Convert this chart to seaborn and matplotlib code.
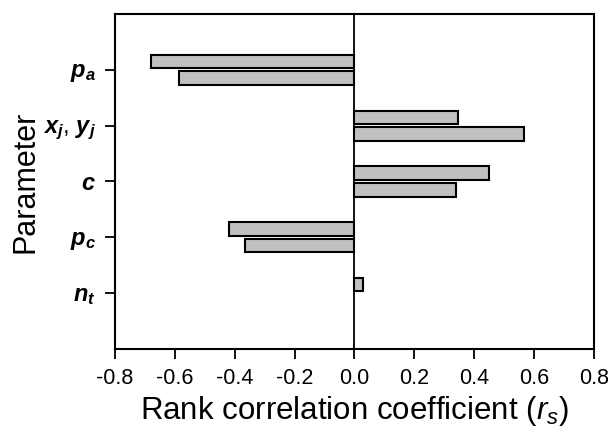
import matplotlib
matplotlib.use("Agg")
import matplotlib.pyplot as plt
import seaborn as sns
import pandas as pd

parameters = ["p_a", "xy_j", "c", "p_c", "n_t"]
tick_labels = [r"$\mathbfit{p_a}$", r"$\mathbfit{x_j}$, $\mathbfit{y_j}$", r"$\mathbfit{c}$",
               r"$\mathbfit{p_c}$", r"$\mathbfit{n_t}$"]
series_upper = [-0.68, 0.345, 0.45, -0.42, 0.03]
series_lower = [-0.585, 0.565, 0.34, -0.365, None]
x_ticks = [-0.8, -0.6, -0.4, -0.2, 0.0, 0.2, 0.4, 0.6, 0.8]

sns.set_style("ticks")
plt.rcParams["font.family"] = ["Liberation Sans", "DejaVu Sans"]
plt.rcParams["mathtext.fontset"] = "custom"
plt.rcParams["mathtext.rm"] = "Liberation Sans"
plt.rcParams["mathtext.it"] = "Liberation Sans:italic"
plt.rcParams["mathtext.bf"] = "Liberation Sans:bold"
plt.rcParams["mathtext.bfit"] = "Liberation Sans:italic:bold"
plt.rcParams["text.color"] = "black"
plt.rcParams["axes.labelcolor"] = "black"
plt.rcParams["xtick.color"] = "black"
plt.rcParams["ytick.color"] = "black"

rows = []
for p, u, l in zip(parameters, series_upper, series_lower):
    rows.append({"param": p, "series": "A", "value": u})
    if l is not None:
        rows.append({"param": p, "series": "B", "value": l})
df = pd.DataFrame(rows)

fig = plt.figure(figsize=(6.11, 4.37), dpi=100)
ax = fig.add_axes([0.188, 0.2014, 0.784, 0.7666])

sns.barplot(data=df, y="param", x="value", hue="series", order=parameters,
            hue_order=["A", "B"], orient="h", width=0.6, gap=0.2,
            palette=["#c0c0c0", "#c0c0c0"], edgecolor="black", linewidth=1.5,
            legend=False, ax=ax, errorbar=None)

ax.axvline(0, color="black", lw=1.3, zorder=0)
ax.set_xlim(-0.8, 0.8)
ax.set_ylim(5, -1)
ax.set_xticks(x_ticks)
ax.set_xticklabels([f"{t:.1f}" for t in x_ticks], fontsize=15.5)
ax.set_yticks(range(len(parameters)))
ax.set_yticklabels(tick_labels, fontsize=17)
ax.set_xlabel(r"Rank correlation coefficient ($r_s$)", fontsize=22.5, labelpad=4)
ax.set_ylabel("Parameter", fontsize=22, labelpad=2)
for s in ax.spines.values():
    s.set_visible(True)
    s.set_linewidth(1.5)
    s.set_color("black")
ax.tick_params(axis="both", direction="out", length=7.5, width=1.3, color="black", pad=6)

fig.savefig("out.png", dpi=100)
